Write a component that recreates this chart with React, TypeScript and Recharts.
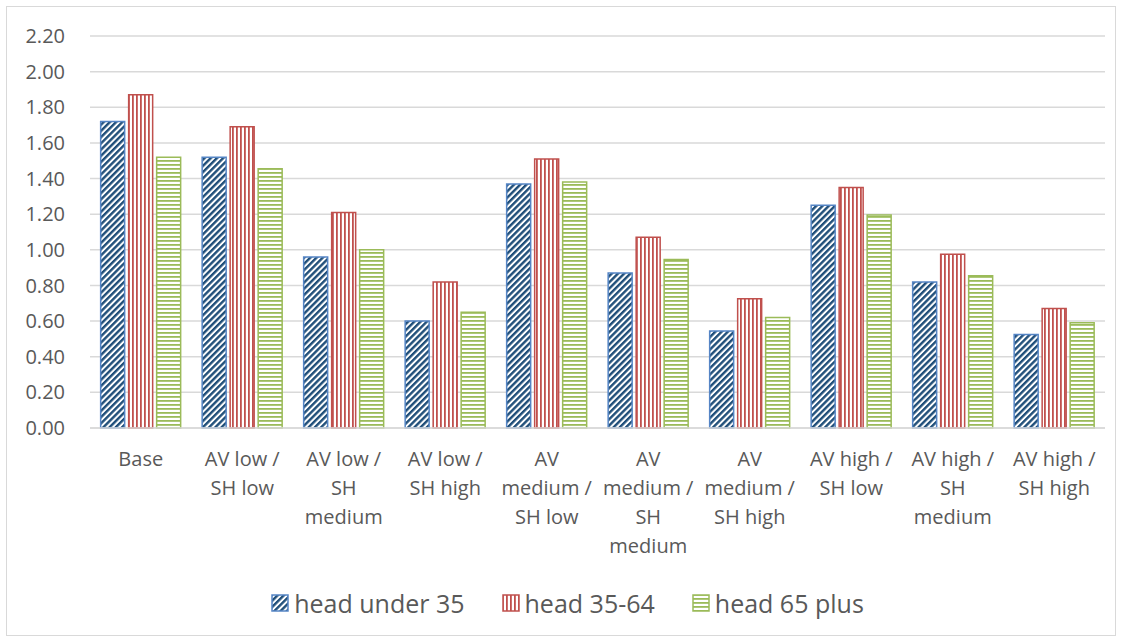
import React from 'react';
import { BarChart, Bar, XAxis, YAxis, CartesianGrid, Legend } from 'recharts';

const categories = [
  'Base',
  'AV low /\nSH low',
  'AV low /\nSH\nmedium',
  'AV low /\nSH high',
  'AV\nmedium /\nSH low',
  'AV\nmedium /\nSH\nmedium',
  'AV\nmedium /\nSH high',
  'AV high /\nSH low',
  'AV high /\nSH\nmedium',
  'AV high /\nSH high',
];
const headUnder35 = [1.72, 1.52, 0.96, 0.6, 1.37, 0.87, 0.545, 1.25, 0.82, 0.525];
const head35to64 = [1.87, 1.69, 1.21, 0.82, 1.51, 1.07, 0.725, 1.35, 0.975, 0.67];
const head65plus = [1.52, 1.455, 1.0, 0.65, 1.38, 0.945, 0.62, 1.195, 0.855, 0.59];
const yTicks = [0, 0.2, 0.4, 0.6, 0.8, 1.0, 1.2, 1.4, 1.6, 1.8, 2.0, 2.2];
const seriesNames = ['head under 35', 'head 35-64', 'head 65 plus'];

const data = categories.map((c, i) => ({
  name: c,
  a: headUnder35[i],
  b: head35to64[i],
  c: head65plus[i],
}));

const FONT = '"Open Sans", "Noto Sans", sans-serif';
const TXT = '#595959';

const series = [
  { key: 'a', name: seriesNames[0], fill: 'url(#patBlue)', stroke: '#5585C5' },
  { key: 'b', name: seriesNames[1], fill: 'url(#patRed)', stroke: '#C0504D' },
  { key: 'c', name: seriesNames[2], fill: 'url(#patGreen)', stroke: '#9BBB59' },
];

const XTick = (props: any) => {
  const { x, y, payload } = props;
  const lines = String(payload.value).split('\n');
  return (
    <text x={x} y={y + 38} textAnchor="middle" fill={TXT} fontSize={20} fontFamily={FONT}>
      {lines.map((l, i) => (
        <tspan key={i} x={x} dy={i === 0 ? 0 : 29}>
          {l}
        </tspan>
      ))}
    </text>
  );
};

const LegendContent = () => (
  <div
    style={{
      display: 'flex',
      justifyContent: 'center',
      alignItems: 'center',
      height: 40,
      paddingLeft: 30,
      boxSizing: 'border-box',
      fontFamily: FONT,
      fontSize: 25,
      color: TXT,
    }}
  >
    {series.map((s, i) => (
      <div key={s.key} style={{ display: 'flex', alignItems: 'center', marginLeft: i === 0 ? 0 : 37 }}>
        <svg width={18} height={18} style={{ marginRight: 5 }}>
          <rect x={1} y={1} width={16} height={16} fill={s.fill} stroke={s.stroke} strokeWidth={1.5} />
        </svg>
        <span>{s.name}</span>
      </div>
    ))}
  </div>
);

export default function App() {
  return (
    <div style={{ position: 'absolute', left: 0, top: 0, width: 1122, height: 643, background: '#fff' }}>
      <svg width={0} height={0} style={{ position: 'absolute' }}>
        <defs>
          <pattern id="patBlue" patternUnits="userSpaceOnUse" width={4.4} height={4.4} patternTransform="rotate(45)">
            <rect x={0} y={0} width={4.4} height={4.4} fill="#ffffff" />
            <rect x={0} y={0} width={2.4} height={4.4} fill="#1F4E79" />
          </pattern>
          <pattern id="patRed" patternUnits="userSpaceOnUse" width={4} height={4}>
            <rect x={0} y={0} width={4} height={4} fill="#ffffff" />
            <rect x={0} y={0} width={1.8} height={4} fill="#C0504D" />
          </pattern>
          <pattern id="patGreen" patternUnits="userSpaceOnUse" width={4} height={4}>
            <rect x={0} y={0} width={4} height={4} fill="#ffffff" />
            <rect x={0} y={0} width={4} height={1.8} fill="#9BBB59" />
          </pattern>
        </defs>
      </svg>
      <div
        style={{
          position: 'absolute',
          left: 6,
          top: 6,
          width: 1110,
          height: 630,
          border: '1px solid #d9d9d9',
          boxSizing: 'border-box',
        }}
      />
      <BarChart
        width={1122}
        height={643}
        data={data}
        margin={{ top: 36, right: 17, bottom: 20, left: 0 }}
        barCategoryGap="10.5%"
        barGap={4}
      >
        <CartesianGrid vertical={false} stroke="#d9d9d9" strokeWidth={1.5} />
        <XAxis
          dataKey="name"
          interval={0}
          height={155}
          tickLine={false}
          axisLine={{ stroke: '#d9d9d9', strokeWidth: 1.5 }}
          tickSize={0}
          tickMargin={0}
          tick={<XTick />}
        />
        <YAxis
          width={90}
          domain={[0, 2.2]}
          ticks={yTicks}
          interval={0}
          tickFormatter={(v: number) => v.toFixed(2)}
          axisLine={false}
          tickLine={false}
          tickSize={0}
          tickMargin={25}
          tick={{ fill: TXT, fontSize: 20, fontFamily: FONT }}
        />
        <Legend verticalAlign="bottom" height={40} content={<LegendContent />} />
        {series.map((s) => (
          <Bar
            key={s.key}
            dataKey={s.key}
            name={s.name}
            fill={s.fill}
            stroke={s.stroke}
            strokeWidth={1.5}
            isAnimationActive={false}
          />
        ))}
      </BarChart>
    </div>
  );
}
